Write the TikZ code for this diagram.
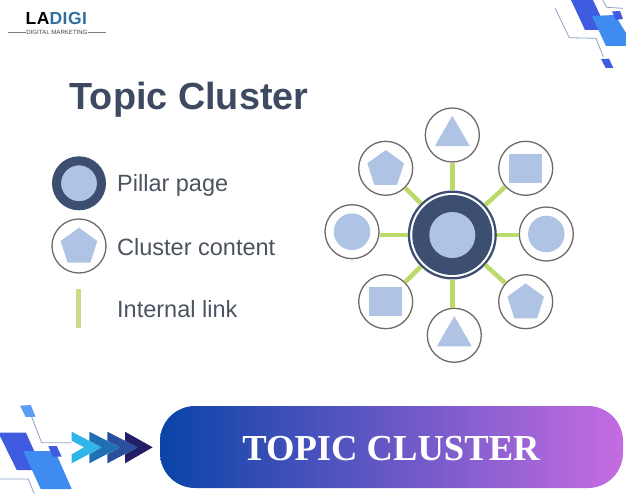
\documentclass[tikz,border=0pt]{standalone}
\usepackage{fontspec}
\setmainfont{Liberation Sans}
\newfontfamily\bannerfont{Liberation Serif}
\usetikzlibrary{shapes.geometric}

\definecolor{inkdark}{HTML}{3E4A61}
\definecolor{inktext}{HTML}{4C5360}
\definecolor{hubdark}{HTML}{3C4F70}
\definecolor{iconblue}{HTML}{AFC3E4}
\definecolor{ringgray}{HTML}{6E6A68}
\definecolor{linkgreen}{HTML}{BCD96C}
\definecolor{legendgreen}{HTML}{C9DC85}
\definecolor{decordark}{HTML}{3F5BE0}
\definecolor{decorlight}{HTML}{3F8CF0}
\definecolor{decorline}{HTML}{8FA3C4}
\definecolor{logoblue}{HTML}{2E6F9E}
\definecolor{bannerleft}{HTML}{0A44A8}
\definecolor{bannerright}{HTML}{C56CE2}

\begin{document}
\begin{tikzpicture}[x=1pt,y=-1pt]
  %--------------------------------------------
  % Styles
  %--------------------------------------------
  \tikzstyle{cluster} = [
    draw=ringgray, fill=white, circle, line width=1.3pt,
    minimum size=54pt, inner sep=0pt
  ]
  \tikzstyle{iconbase} = [fill=iconblue, inner sep=0pt, outer sep=0pt]
  \tikzstyle{icontri} = [iconbase, regular polygon, regular polygon sides=3, minimum size=40.4pt]
  \tikzstyle{iconpenta} = [iconbase, regular polygon, regular polygon sides=5, minimum size=38.6pt]
  \tikzstyle{iconsquare} = [iconbase, rectangle, minimum width=33pt, minimum height=29pt]
  \tikzstyle{icondisc} = [iconbase, circle, minimum size=36.5pt]
  \tikzstyle{linkline} = [draw=linkgreen, line width=4.5pt]
  \tikzstyle{label} = [text=inktext, anchor=base west, inner sep=0pt, font=\fontsize{23.5}{26}\selectfont]
  \tikzstyle{decorline} = [draw=decorline, line width=.8pt]

  \useasboundingbox (0,0) rectangle (626,494);

  %--------------------------------------------
  % Logo
  %--------------------------------------------
  \node[anchor=base west, inner sep=0pt, font=\fontsize{17.5}{17.5}\selectfont\bfseries\addfontfeature{LetterSpace=3}] (logo) at (25.5,25)
    {LA\textcolor{logoblue}{DIGI}};
  \node[anchor=center, inner sep=0pt, text=black!75, font=\fontsize{6.1}{7}\selectfont] (logosub) at (57,32) {DIGITAL MARKETING};
  \coordinate (logoL) at (8,32);
  \coordinate (logoR) at (106,32);
  \draw[black!50, line width=.6pt] (logoL) -- (logosub.west);
  \draw[black!50, line width=.6pt] (logosub.east) -- (logoR);

  %--------------------------------------------
  % Corner decoration, top right
  %--------------------------------------------
  \draw[decorline] (555,8) -- (569.3,37.7) -- (596,38.3) -- (603.3,57);
  \draw[decorline] (602.7,0) -- (606.7,7.3) -- (623,8.3);
  \fill[decordark] (571,0) -- (593,0) -- (607,30) -- (585,30) -- cycle;
  \fill[decorlight] (592,16) -- (615,15) -- (626,33) -- (626,46) -- (606,46) -- cycle;
  \fill[decordark] (612,11.5) -- (620,11) -- (623,19) -- (616,20) -- cycle;
  \fill[decordark] (601,59) -- (609,58.7) -- (613.3,68) -- (605.7,68) -- cycle;

  %--------------------------------------------
  % Corner decoration, bottom left
  %--------------------------------------------
  \draw[decorline] (31.7,417.3) -- (41.7,442.7) -- (71.7,442.7);
  \draw[decorline] (0,479) -- (28.3,479) -- (34.3,494);
  \fill[decorlight!85!white] (20,405.7) -- (30.7,405) -- (35.7,416.7) -- (25.7,417) -- cycle;
  \fill[decordark] (0,432.7) -- (26,432.7) -- (42.7,470) -- (16.7,470) -- (0,436) -- cycle;
  \fill[decorlight] (23.3,451) -- (55,451) -- (71.7,489) -- (40.7,489) -- cycle;
  \fill[decordark] (48.3,446) -- (56.7,446) -- (61.7,456.7) -- (52.7,456.7) -- cycle;

  %--------------------------------------------
  % Chevrons
  %--------------------------------------------
  \foreach \xa/\xb/\xc/\cor in {71.7/84/101.7/2FB5E8, 89.3/101.7/120/1F6FB5,
    107.3/120/137.7/2A4F9F, 125/137.7/152.7/221F66}
  {
    \definecolor{chev}{HTML}{\cor}
    \fill[chev] (\xa,431.7) -- (\xc,447.3) -- (\xa,463.3) -- (\xa,454.3) -- (\xb,447.3) -- (\xa,440.7) -- cycle;
  }

  %--------------------------------------------
  % Banner
  %--------------------------------------------
  \node[rectangle, rounded corners=35pt, left color=bannerleft, right color=bannerright,
    minimum width=463pt, minimum height=82pt, inner sep=0pt] (banner) at (391.5,447) {};
  \node[text=white, anchor=base, inner sep=0pt, font=\fontsize{36.6}{38}\selectfont\bannerfont\bfseries] (bannertext) at (391,460.5) {TOPIC CLUSTER};

  %--------------------------------------------
  % Legend
  %--------------------------------------------
  \node[text=inkdark, anchor=base west, inner sep=0pt, font=\fontsize{37.8}{40}\selectfont\bfseries] (title) at (69.5,110) {Topic Cluster};

  \node[circle, fill=iconblue, draw=hubdark, line width=9pt, minimum size=45pt, inner sep=0pt] (keypillar) at (79,183.3) {};
  \node[label] (keypillartext) at (117,191.7) {Pillar page};

  \node[cluster] (keycluster) at (79,246) {};
  \node[iconpenta] (keyclustericon) at (79,247) {};
  \node[label] (keyclustertext) at (117,256) {Cluster content};

  \coordinate (keylinktop) at (78.3,289);
  \coordinate (keylinkbot) at (78.3,327.7);
  \draw[legendgreen, line width=5pt] (keylinktop) -- (keylinkbot);
  \node[label] (keylinktext) at (117,317.5) {Internal link};

  %--------------------------------------------
  % Hub
  %--------------------------------------------
  \node[circle, draw=hubdark, fill=white, line width=2.3pt, minimum size=86.7pt, inner sep=0pt] (hub) at (452.3,235) {};
  \node[circle, fill=hubdark, minimum size=80pt, inner sep=0pt] (hubdisc) at (hub) {};
  \node[circle, fill=iconblue, minimum size=46pt, inner sep=0pt] (hubcore) at (hub) {};

  %--------------------------------------------
  % Loop over the cluster pages
  %--------------------------------------------
  \foreach \name/\x/\y/\kind/\dy in {
    top/452.3/135/icontri/1, ne/525.7/168.3/iconsquare/0, east/546.3/234/icondisc/0,
    se/525.7/301.7/iconpenta/1, bottom/454.3/335.3/icontri/1, sw/385.7/301.7/iconsquare/0,
    west/352/231.7/icondisc/0, nw/385.7/168.3/iconpenta/1}
  {
    \node[cluster] (\name) at (\x,\y) {};
    \node[\kind] (\name icon) at (\x,\y+\dy) {};
  }

  %--------------------------------------------
  % Internal links
  %--------------------------------------------
  \foreach \name in {top,ne,se,sw,nw}
    \draw[linkline] (hub) -- (\name);
  \draw[linkline] (hub) -- (hub -| east.west);
  \draw[linkline] (hub) -- (hub -| west.east);
  \draw[linkline] (hub) -- (hub |- bottom.north);
\end{tikzpicture}
\end{document}
